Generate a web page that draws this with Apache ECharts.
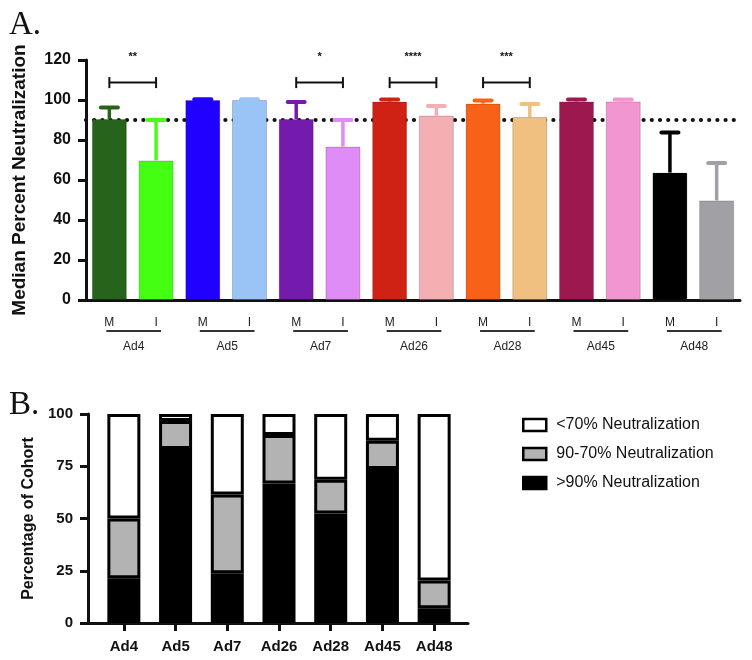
<!DOCTYPE html>
<html>
<head>
<meta charset="utf-8">
<script src="https://cdn.jsdelivr.net/npm/echarts@6/dist/echarts.min.js"></script>
<style>
html,body{margin:0;padding:0;background:#fff;}
#chart{width:752px;height:660px;}
</style>
</head>
<body>
<div id="chart"></div>
<script>
// ---------- Data: panel A ----------
const groups = ['Ad4', 'Ad5', 'Ad7', 'Ad26', 'Ad28', 'Ad45', 'Ad48'];
const medianM = [90.5, 100, 90.5, 99.2, 98.2, 99.3, 63.7];
const errTopM = [96.3, 100.4, 99, 100.3, 99.8, 100.3, 83.8];
const medianI = [69.8, 100, 76.7, 92.2, 91.5, 99.3, 49.8];
const errTopI = [90, 100.4, 90, 97, 98, 100.3, 68.5];
const threshold = 90;
const sigGroups = [0, 2, 3, 4];
const sigLabels = ['**', '*', '****', '***'];
const bracketY = 108.7;
const starY = 121.5;
const yTicksA = [0, 120, 20]; // min, max, interval

// ---------- Data: panel B ----------
const cohortCats = ['Ad4', 'Ad5', 'Ad7', 'Ad26', 'Ad28', 'Ad45', 'Ad48'];
const above90 = [21.4, 83.3, 23.8, 66.7, 52.4, 73.7, 7.1];
const mid90to70 = [28.6, 13.4, 37.7, 23.3, 16.2, 13.5, 13.2];
const below70 = [50, 3.3, 38.5, 10, 31.4, 12.8, 79.7];
const yTicksB = [0, 100, 25];
const legendNames = ['<70% Neutralization', '90-70% Neutralization', '>90% Neutralization'];

// ---------- Palette ----------
const colorsM = ['#27631a', '#2000ff', '#741aad', '#d02214', '#f86218', '#9e1850', '#000000'];
const colorsI = ['#44ff11', '#99c4f5', '#df8cf7', '#f4afb3', '#f0c080', '#f196d0', '#a0a0a5'];

// build 14-bar arrays
const catsA = [], valsA = [], errA = [], barColors = [];
groups.forEach((g, i) => {
  catsA.push(g + ' M'); catsA.push(g + ' I');
  valsA.push(medianM[i]); valsA.push(medianI[i]);
  errA.push(errTopM[i]); errA.push(errTopI[i]);
  barColors.push(colorsM[i]); barColors.push(colorsI[i]);
});

const FONT = "'Liberation Sans', Arial, Helvetica, sans-serif";
const chart = echarts.init(document.getElementById('chart'), null, {renderer: 'canvas'});

const option = {
  animation: false,
  backgroundColor: '#fff',
  textStyle: {fontFamily: FONT, color: '#111'},
  title: [
    {text: 'A.', left: 4, top: 4, textStyle: {fontFamily: "'Liberation Serif', 'Times New Roman', serif", fontSize: 33, fontWeight: 'normal', color: '#111'}},
    {text: 'B.', left: 4, top: 384, textStyle: {fontFamily: "'Liberation Serif', 'Times New Roman', serif", fontSize: 33, fontWeight: 'normal', color: '#111'}}
  ],
  legend: {
    data: legendNames,
    orient: 'vertical',
    left: 522, top: 417, padding: 0,
    itemWidth: 23, itemHeight: 12, itemGap: 13,
    icon: 'rect',
    itemStyle: {borderWidth: 2.5, borderColor: '#000'},
    textStyle: {fontFamily: FONT, fontSize: 16, color: '#111', padding: [0, 0, 0, 5]}
  },
  grid: [
    {left: 86, right: 12, top: 60, bottom: 360},
    {left: 88, right: 284, top: 414, bottom: 37},
    {left: 98, right: 292, top: 414, bottom: 37}
  ],
  xAxis: [
    {
      type: 'category', gridIndex: 0, data: catsA,
      axisLine: {lineStyle: {color: '#111', width: 3}},
      axisTick: {alignWithLabel: true, length: 7, lineStyle: {color: '#111', width: 3}},
      axisLabel: {margin: 17, fontSize: 12, color: '#222', formatter: v => v.split(' ')[1]}
    },
    {
      // frame axis for panel B (line only)
      type: 'value', gridIndex: 1, min: 0, max: 1,
      splitLine: {show: false}, axisTick: {show: false}, axisLabel: {show: false},
      axisLine: {show: true, onZero: false, lineStyle: {color: '#111', width: 3}}
    },
    {
      type: 'category', gridIndex: 2, data: cohortCats,
      axisLine: {show: false},
      axisTick: {show: true, alignWithLabel: true, length: 8, lineStyle: {color: '#111', width: 3}},
      axisLabel: {margin: 16, fontSize: 15, fontWeight: 'bold', color: '#111'}
    }
  ],
  yAxis: [
    {
      type: 'value', gridIndex: 0, min: yTicksA[0], max: yTicksA[1], interval: yTicksA[2],
      name: 'Median Percent Neutralization', nameLocation: 'middle', nameGap: 57, nameRotate: 90,
      nameTextStyle: {fontSize: 19, fontWeight: 'bold', color: '#111'},
      splitLine: {show: false},
      axisLine: {show: true, lineStyle: {color: '#111', width: 3}},
      axisTick: {show: true, length: 8, lineStyle: {color: '#111', width: 3}},
      axisLabel: {margin: 15, fontSize: 16, fontWeight: 'bold', color: '#111'}
    },
    {
      type: 'value', gridIndex: 1, min: yTicksB[0], max: yTicksB[1], interval: yTicksB[2],
      name: 'Percentage of Cohort', nameLocation: 'middle', nameGap: 50, nameRotate: 90,
      nameTextStyle: {fontSize: 16, fontWeight: 'bold', color: '#111'},
      splitLine: {show: false},
      axisLine: {show: true, onZero: false, lineStyle: {color: '#111', width: 3}},
      axisTick: {show: true, length: 8, lineStyle: {color: '#111', width: 3}},
      axisLabel: {margin: 15, fontSize: 15, fontWeight: 'bold', color: '#111'}
    },
    {
      type: 'value', gridIndex: 2, min: yTicksB[0], max: yTicksB[1], show: false
    }
  ],
  series: [
    // Panel A bars
    {
      name: 'Median', type: 'bar', xAxisIndex: 0, yAxisIndex: 0, barWidth: 35, z: 3,
      data: valsA.map((v, k) => ({value: v, itemStyle: {color: barColors[k], borderColor: 'rgba(0,0,0,0.18)', borderWidth: 1}})),
      markLine: {
        silent: true, symbol: 'none', z: 1,
        label: {show: false},
        lineStyle: {color: '#111', type: [0, 8.2], width: 4.2, cap: 'round'},
        data: [{yAxis: threshold}]
      }
    },
    // Panel A error bars
    {
      name: 'err', type: 'custom', xAxisIndex: 0, yAxisIndex: 0, z: 4, clip: false,
      data: valsA.map((v, k) => [k, v, errA[k]]),
      encode: {x: 0, y: [1, 2]},
      renderItem: (params, api) => {
        const x = api.value(0);
        const p0 = api.coord([x, api.value(1)]);
        const p1 = api.coord([x, api.value(2)]);
        const c = barColors[params.dataIndex];
        return {type: 'group', children: [
          {type: 'line', shape: {x1: p0[0], y1: p0[1], x2: p1[0], y2: p1[1]}, style: {stroke: c, lineWidth: 3.5}},
          {type: 'line', shape: {x1: p1[0] - 8.5, y1: p1[1], x2: p1[0] + 8.5, y2: p1[1]}, style: {stroke: c, lineWidth: 4, lineCap: 'round'}}
        ]};
      }
    },
    // Panel A significance brackets
    {
      name: 'sig', type: 'custom', xAxisIndex: 0, yAxisIndex: 0, z: 4, clip: false,
      data: sigGroups.map(g => [2 * g, 2 * g + 1, bracketY, starY]),
      encode: {x: [0, 1], y: [2, 3]},
      renderItem: (params, api) => {
        const pl = api.coord([api.value(0), api.value(2)]);
        const pr = api.coord([api.value(1), api.value(2)]);
        const ps = api.coord([api.value(0), api.value(3)]);
        const st = {stroke: '#111', lineWidth: 2};
        return {type: 'group', children: [
          {type: 'line', shape: {x1: pl[0], y1: pl[1], x2: pr[0], y2: pr[1]}, style: st},
          {type: 'line', shape: {x1: pl[0], y1: pl[1] - 5.5, x2: pl[0], y2: pl[1] + 5.5}, style: st},
          {type: 'line', shape: {x1: pr[0], y1: pr[1] - 5.5, x2: pr[0], y2: pr[1] + 5.5}, style: st},
          {type: 'text', style: {text: sigLabels[params.dataIndex], x: (pl[0] + pr[0]) / 2, y: ps[1],
            textAlign: 'center', textVerticalAlign: 'middle', font: 'bold 11px ' + FONT, fill: '#111'}}
        ]};
      }
    },
    // Panel A group underline + labels
    {
      name: 'groups', type: 'custom', xAxisIndex: 0, yAxisIndex: 0, z: 4, clip: false, silent: true,
      data: groups.map((g, i) => [2 * i, 2 * i + 1, 0]),
      encode: {x: [0, 1], y: 2},
      renderItem: (params, api) => {
        const pl = api.coord([api.value(0), api.value(2)]);
        const pr = api.coord([api.value(1), api.value(2)]);
        return {type: 'group', children: [
          {type: 'line', shape: {x1: pl[0] - 3, y1: pl[1] + 31, x2: pr[0] + 5, y2: pl[1] + 31}, style: {stroke: '#333', lineWidth: 2}},
          {type: 'text', style: {text: groups[params.dataIndex], x: (pl[0] + pr[0]) / 2 + 1, y: pl[1] + 47,
            textAlign: 'center', textVerticalAlign: 'middle', font: '12px ' + FONT, fill: '#222'}}
        ]};
      }
    },
    // Panel B stacked bars
    {
      name: legendNames[2], type: 'bar', xAxisIndex: 2, yAxisIndex: 2, stack: 'cohort', barWidth: 33,
      itemStyle: {color: '#000', borderColor: '#000', borderWidth: 3},
      data: above90
    },
    {
      name: legendNames[1], type: 'bar', xAxisIndex: 2, yAxisIndex: 2, stack: 'cohort', barWidth: 33,
      itemStyle: {color: '#b3b3b3', borderColor: '#000', borderWidth: 3},
      data: mid90to70
    },
    {
      name: legendNames[0], type: 'bar', xAxisIndex: 2, yAxisIndex: 2, stack: 'cohort', barWidth: 33,
      itemStyle: {color: '#fff', borderColor: '#000', borderWidth: 3},
      data: below70
    }
  ]
};
chart.setOption(option);
</script>
</body>
</html>
